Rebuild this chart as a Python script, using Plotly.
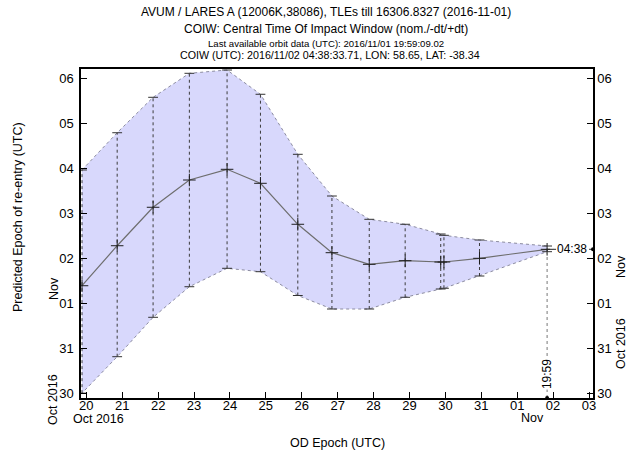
import plotly.graph_objects as go

# ---------------- data ----------------
od_epochs = ["2016-10-19 21:07", "2016-10-20 20:38", "2016-10-21 20:38", "2016-10-22 20:53",
             "2016-10-23 22:05", "2016-10-24 20:24", "2016-10-25 21:22", "2016-10-26 20:10",
             "2016-10-27 21:07", "2016-10-28 21:07", "2016-10-29 20:53", "2016-10-29 23:02",
             "2016-10-30 22:48", "2016-11-01 19:59:09"]
coiw_nominal = ["2016-11-01 09:13", "2016-11-02 06:33", "2016-11-03 03:03", "2016-11-03 17:36",
                "2016-11-03 23:18", "2016-11-03 15:50", "2016-11-02 17:59", "2016-11-02 02:50",
                "2016-11-01 20:38", "2016-11-01 22:34", "2016-11-01 21:52", "2016-11-01 21:52",
                "2016-11-01 23:50", "2016-11-02 04:38:33"]
coiw_plus = ["2016-11-03 22:57", "2016-11-04 18:49", "2016-11-05 13:42", "2016-11-06 02:30",
             "2016-11-06 04:16", "2016-11-05 15:19", "2016-11-04 07:18", "2016-11-03 09:04",
             "2016-11-02 20:38", "2016-11-02 17:59", "2016-11-02 12:48", "2016-11-02 12:06",
             "2016-11-02 09:36", "2016-11-02 06:24"]
coiw_minus = ["2016-10-29 23:55", "2016-10-30 19:22", "2016-10-31 16:22", "2016-11-01 08:41",
              "2016-11-01 18:30", "2016-11-01 16:42", "2016-11-01 04:00", "2016-10-31 20:48",
              "2016-10-31 20:48", "2016-11-01 03:03", "2016-11-01 07:28", "2016-11-01 07:51",
              "2016-11-01 14:24", "2016-11-02 03:22"]
last_od_label = "19:59"
last_coiw_label = "04:38"
title_lines = [
    "AVUM / LARES A (12006K,38086), TLEs till 16306.8327 (2016-11-01)",
    "COIW: Central Time Of Impact Window (nom./-dt/+dt)",
    "Last available orbit data (UTC): 2016/11/01 19:59:09.02",
    "COIW (UTC): 2016/11/02 04:38:33.71, LON: 58.65, LAT: -38.34",
]
x_range = ["2016-10-19 20:27", "2016-11-03 02:40"]
y_range = ["2016-10-29 21:20", "2016-11-06 04:48"]

# ---------------- layout geometry ----------------
W, H = 637, 459
L, R, T, B = 81, 593, 69, 398
FONT = "Liberation Sans, Arial, Helvetica, sans-serif"


def pxx(x):
    return (x - L) / (R - L)


def pxy(y):
    return (B - y) / (B - T)


fig = go.Figure()

# band
fig.add_trace(go.Scatter(
    x=od_epochs + od_epochs[::-1], y=coiw_plus + coiw_minus[::-1],
    fill="toself", fillcolor="rgb(216,216,252)", mode="lines",
    line=dict(color="rgb(140,140,160)", width=1, dash="dot"),
    hoverinfo="skip", showlegend=False))

# vertical error bars
ex, ey = [], []
for xv, lo, hi in zip(od_epochs, coiw_minus, coiw_plus):
    ex += [xv, xv, None]
    ey += [lo, hi, None]
fig.add_trace(go.Scatter(x=ex, y=ey, mode="lines",
                         line=dict(color="rgb(60,60,60)", width=1, dash="dot"),
                         hoverinfo="skip", showlegend=False))
# caps
fig.add_trace(go.Scatter(x=od_epochs + od_epochs, y=coiw_plus + coiw_minus, mode="markers",
                         marker=dict(symbol="line-ew", size=7,
                                     line=dict(color="rgb(50,50,50)", width=1)),
                         hoverinfo="skip", showlegend=False))

# nominal line
fig.add_trace(go.Scatter(x=od_epochs, y=coiw_nominal, mode="lines+markers",
                         line=dict(color="rgb(110,110,110)", width=1.2),
                         marker=dict(symbol="cross-thin", size=9,
                                     line=dict(color="rgb(30,30,30)", width=1)),
                         hoverinfo="skip", showlegend=False))

# guide lines from the last point
fig.add_trace(go.Scatter(x=[od_epochs[-1], x_range[1]], y=[coiw_nominal[-1], coiw_nominal[-1]],
                         mode="lines", line=dict(color="rgb(40,40,40)", width=1, dash="dot"),
                         hoverinfo="skip", showlegend=False))
fig.add_trace(go.Scatter(x=[od_epochs[-1], od_epochs[-1]], y=[y_range[0], coiw_minus[-1]],
                         mode="lines", line=dict(color="rgb(120,120,120)", width=1, dash="dot"),
                         hoverinfo="skip", showlegend=False))
# end dots on axes
fig.add_trace(go.Scatter(x=[x_range[1]], y=[coiw_nominal[-1]], mode="markers", yaxis="y2",
                         marker=dict(color="black", size=4), cliponaxis=False,
                         hoverinfo="skip", showlegend=False))
fig.add_trace(go.Scatter(x=[od_epochs[-1]], y=[y_range[0]], mode="markers",
                         marker=dict(color="black", size=4), cliponaxis=False,
                         hoverinfo="skip", showlegend=False))

axis_common = dict(
    type="date", tickformat="%d", dtick=86400000, ticks="inside", ticklen=6,
    tickcolor="black", tickwidth=1, showline=True, linecolor="black", linewidth=1.5,
    showgrid=False, zeroline=False, tickfont=dict(family=FONT, size=13, color="black"),
)

fig.update_layout(
    width=W, height=H, margin=dict(l=L, r=W - R, t=T, b=H - B),
    paper_bgcolor="white", plot_bgcolor="white", showlegend=False,
    font=dict(family=FONT, color="black"),
    xaxis=dict(axis_common, range=x_range, tick0="2016-10-20", mirror=True,
               ticklabelstandoff=-5),
    yaxis=dict(axis_common, range=y_range, tick0="2016-10-30", ticklabelstandoff=3),
    yaxis2=dict(axis_common, range=y_range, tick0="2016-10-30", overlaying="y", side="right"),
)

ann = []
# titles
for txt, yy, sz, xc in zip(title_lines, [12, 29, 44, 55], [12, 12, 9.6, 10.7],
                           [326, 326, 326, 330]):
    ann.append(dict(text=txt, x=pxx(xc), y=pxy(yy), xref="paper", yref="paper",
                    showarrow=False, xanchor="center", yanchor="middle",
                    font=dict(size=sz, family=FONT, color="black")))
# axis titles
ann.append(dict(text="OD Epoch (UTC)", x=pxx(337), y=pxy(443), xref="paper", yref="paper",
                showarrow=False, xanchor="center", yanchor="middle",
                font=dict(size=12.5, family=FONT)))
ann.append(dict(text="Predicted Epoch of re-entry (UTC)", x=pxx(18), y=pxy(217),
                xref="paper", yref="paper", showarrow=False, textangle=-90,
                xanchor="center", yanchor="middle",
                font=dict(size=12.5, family=FONT)))
# month labels
for txt, x, y, ang in [("Oct 2016", 98, 419, 0), ("Nov", 532, 418, 0),
                       ("Nov", 54, 289, -90), ("Oct 2016", 53, 400, -90),
                       ("Nov", 621, 267, -90), ("Oct 2016", 621, 344, -90)]:
    ann.append(dict(text=txt, x=pxx(x), y=pxy(y), xref="paper", yref="paper",
                    showarrow=False, textangle=ang, xanchor="center", yanchor="middle",
                    font=dict(size=12.5, family=FONT)))
# last-point labels
ann.append(dict(text=last_od_label, x=od_epochs[-1], y=pxy(374), xref="x", yref="paper",
                showarrow=False, textangle=-90, bgcolor="white", borderpad=0,
                xanchor="center", yanchor="middle",
                font=dict(size=12, family=FONT)))
ann.append(dict(text=last_coiw_label, x=pxx(572), y=coiw_nominal[-1], xref="paper", yref="y",
                showarrow=False, bgcolor="white", borderpad=0,
                xanchor="center", yanchor="middle",
                font=dict(size=12, family=FONT)))
fig.update_layout(annotations=ann)

fig.write_html("out.html")
